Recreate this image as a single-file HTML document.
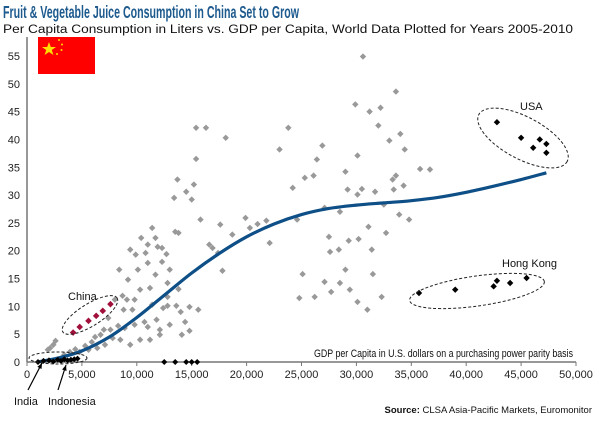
<!DOCTYPE html>
<html><head><meta charset="utf-8"><style>
body{margin:0;background:#fff;}
svg text{font-family:"Liberation Sans",sans-serif;}
</style></head><body>
<svg id="chart" width="600" height="420" viewBox="0 0 600 420">
<text x="3" y="18" font-size="17.5" font-weight="bold" fill="#1d5a8e" textLength="296" lengthAdjust="spacingAndGlyphs">Fruit &amp; Vegetable Juice Consumption in China Set to Grow</text>
<text x="3" y="33" font-size="11.5" fill="#111" textLength="570" lengthAdjust="spacingAndGlyphs">Per Capita Consumption in Liters vs. GDP per Capita, World Data Plotted for Years 2005-2010</text>
<g>
<rect x="38" y="37" width="57" height="37" fill="#f00"/>
<polygon points="49,42 50.8,47 56,47 51.8,50 53.4,55 49,52 44.6,55 46.2,50 42,47 47.2,47" fill="#ffde00"/>
<circle cx="59" cy="40" r="1" fill="#ffde00"/><circle cx="62" cy="44.5" r="1" fill="#ffde00"/>
<circle cx="61.5" cy="50" r="1" fill="#ffde00"/><circle cx="57" cy="54" r="1" fill="#ffde00"/>
</g>
<g id="axes"></g>
<g id="marks"></g>
<text x="314" y="357" font-size="11" fill="#111" textLength="259" lengthAdjust="spacingAndGlyphs">GDP per Capita in U.S. dollars on a purchasing power parity basis</text>
<text x="592" y="413" font-size="9.5" text-anchor="end" fill="#111"><tspan font-weight="bold">Source:</tspan> CLSA Asia-Pacific Markets, Euromonitor</text>
</svg>
<script>
const xTicks=[0,5000,10000,15000,20000,25000,30000,35000,40000,45000,50000];
const yTicks=[0,5,10,15,20,25,30,35,40,45,50,55];
const worldX=[12.7,13.4,13.7,14.5,13.5,15.4,16.3,15.4,16.9,18.1,17.4,17.8,15.2,13.0,12.8,12.8,13.8,15.0,16.6,15.8,17.6,18.7,20.3,19.9,21.0,21.8,22.1,23.0,23.8,24.6,24.2,25.3,26.1,26.4,26.9,27.6,28.4,29.0,30.1,29.2,30.5,30.6,29.9,31.2,32.2,33.0,32.0,33.6,34.4,36.7,35.8,33.6,33.4,31.4,28.5,27.1,27.5,29.3,31.1,30.2,30.1,31.7,33.3,32.5,32.7,33.9,34.8,34.3,29.0,28.5,29.4,30.1,31.0,32.3,31.5,25.1,26.2,27.1,27.7,24.8,34.0,6.7,7.6,8.3,8.9,9.8,10.7,12.1,13.0,7.4,8.0,8.7,9.2,10.1,10.3,11.2,11.7,12.3,11.9,10.8,9.8,11.4,12.4,13.6,14.0,14.4,14.8,15.6,14.1,11.2,8.5,9.4,10.3,11.8,11.0,12.1,14.8,13.8,9.6,8.8,7.8,7.1,6.4,5.6,4.8,3.9,2.4,2.1,2.6,1.9,8.4,9.4,10.4,11.4,9.9,11.0,11.7,9.1,11.0,12.3,12.8,3.4,4.4,5.3,5.9,7.0,6.2];
const worldY=[19.4,29.5,32.8,30.6,23.4,42.1,42.1,36.5,20.5,40.3,19.6,16.4,31.9,16.6,11.7,10.1,23.2,29.2,21.1,25.6,24.7,22.9,24.1,25.9,24.8,25.4,21.4,38.2,42.1,25.6,31.3,33.1,33.5,36.4,38.9,19.8,20.2,34.2,37.1,31.0,31.1,54.9,46.3,45.0,45.7,39.8,42.5,48.6,38.2,34.6,34.7,33.5,31.0,20.2,27.0,27.7,22.5,21.8,24.3,22.1,30.1,30.6,32.8,28.3,23.2,26.5,25.6,31.7,16.6,14.2,13.0,10.8,9.4,11.7,15.8,15.8,11.7,14.4,12.6,11.5,41.0,4.9,5.8,6.5,6.1,6.7,7.2,5.8,6.7,7.9,11.2,11.9,14.8,16.6,13.0,13.3,15.7,18.0,20.7,19.6,11.2,10.3,9.7,10.1,9.0,7.2,9.9,9.4,4.9,4.0,4.0,3.1,4.0,7.6,6.3,4.9,5.6,13.1,9.4,9.4,4.3,3.1,2.5,2.2,1.8,1.8,3.1,2.5,3.8,2.2,16.6,20.2,22.3,24.1,19.3,21.1,22.3,11.2,17.8,20.5,14.2,1.3,2.3,2.9,3.6,5.8,4.5];
const chinaX=[4.2,4.8,5.6,6.3,6.9,7.6];
const chinaY=[5.3,6.3,7.4,8.3,9.2,10.4];
const usaX=[42.8,45.0,46.7,47.3,46.1,47.3];
const usaY=[43.1,40.3,40.0,39.2,38.5,37.6];
const hkX=[35.7,39.0,42.5,42.8,44.0,45.5];
const hkY=[12.4,13.0,13.6,14.6,14.2,15.1];
const zeroX=[1.0,1.5,2.0,2.4,2.8,3.1,3.4,3.7,4.0,4.3,4.6,12.5,13.5,14.5,15.0,15.5];
const zeroY=[0,0.2,0.3,0.1,0.4,0.2,0.5,0.3,0.4,0.5,0.6,0,0,0,0,0];
const trendX=[1.0,3,5,7.5,10,12.5,15,17.5,20,22.5,25,27.5,30,32.5,35,37.5,40,42.5,45,47.3];
const trendY=[0,0.8,2.0,4.5,8,12,16,19.5,22.5,24.8,26.5,27.6,28.2,28.6,29.0,29.6,30.5,31.6,32.8,34.0];

const X0=27,X1=576,Y0=362,Y55=56;
const sx=v=>X0+(v/50000)*(X1-X0);
const sxk=v=>sx(v*1000);
const sy=v=>Y0-(v/55)*(Y0-Y55);
const NS="http://www.w3.org/2000/svg";
function mk(tag,attrs,parent){const e=document.createElementNS(NS,tag);for(const k in attrs)e.setAttribute(k,attrs[k]);parent.appendChild(e);return e;}
const axes=document.getElementById('axes'),marks=document.getElementById('marks');

const ya=mk('line',{x1:X0,y1:37,x2:X0,y2:Y0,stroke:'#777','stroke-width':1.5},axes);


const xa=mk('line',{x1:X0,y1:Y0,x2:X1,y2:Y0,stroke:'#777','stroke-width':1.5},axes);


yTicks.forEach(t=>{
  const l=mk('text',{x:20,y:sy(t)+4,'font-size':11,'text-anchor':'end',fill:'#222'},axes);l.textContent=t;
  
  
});
xTicks.forEach(t=>{
  mk('line',{x1:sx(t),y1:Y0,x2:sx(t),y2:Y0+4,stroke:'#777'},axes);
  const l=mk('text',{x:sx(t),y:Y0+16,'font-size':11,'text-anchor':'middle',fill:'#222'},axes);l.textContent=t.toLocaleString('en-US');
  
  
});
function diamond(x,y,fill,r){return mk('polygon',{points:`${x},${y-r} ${x+r},${y} ${x},${y+r} ${x-r},${y}`,fill:fill},marks);}
worldX.forEach((v,i)=>{const d=diamond(sxk(v),sy(worldY[i]),'#999',3.2);
  
  });
const pts=trendX.map((v,i)=>[sxk(v),sy(trendY[i])]);
let dstr=`M${pts[0][0]},${pts[0][1]}`;
for(let i=0;i<pts.length-1;i++){const p0=pts[Math.max(0,i-1)],p1=pts[i],p2=pts[i+1],p3=pts[Math.min(pts.length-1,i+2)];
  dstr+=` C${p1[0]+(p2[0]-p0[0])/6},${p1[1]+(p2[1]-p0[1])/6} ${p2[0]-(p3[0]-p1[0])/6},${p2[1]-(p3[1]-p1[1])/6} ${p2[0]},${p2[1]}`;}
const tl=mk('path',{d:dstr,fill:'none',stroke:'#0d4f86','stroke-width':3.2},marks);


zeroX.forEach((v,i)=>{const d=diamond(sxk(v),sy(zeroY[i]),'#000',3);
  
  });
chinaX.forEach((v,i)=>{const d=diamond(sxk(v),sy(chinaY[i]),'#a0103a',3.3);
  
  });
usaX.forEach((v,i)=>{const d=diamond(sxk(v),sy(usaY[i]),'#000',3.2);
  
  });
hkX.forEach((v,i)=>{const d=diamond(sxk(v),sy(hkY[i]),'#000',3.2);
  
  });
[['china-ellipse',90,315,32,11,-32],['indonesia-ellipse',58,358,29,6,0],['usa-ellipse',523,138,50,21,28],['hong-kong-ellipse',477,291,68,15,-8]].forEach(e=>{
  const el=mk('ellipse',{cx:e[1],cy:e[2],rx:e[3],ry:e[4],transform:`rotate(${e[5]} ${e[1]} ${e[2]})`,fill:'none',stroke:'#222','stroke-dasharray':'3,2','stroke-width':1},marks);
  
  
});
[['china-label','China',68,300],['usa-label','USA',520,110],['hong-kong-label','Hong Kong',502,267],['india-label','India',14,405],['indonesia-label','Indonesia',48,405]].forEach(t=>{
  const el=mk('text',{x:t[2],y:t[3],'font-size':11,fill:'#111'},marks);el.textContent=t[1];
  
  
});
[[28,390,42,363],[58,390,66,365]].forEach(a=>{
  const l=mk('line',{x1:a[0],y1:a[1],x2:a[2],y2:a[3],stroke:'#000','stroke-width':1.2},marks);
  
  
  const ang=Math.atan2(a[3]-a[1],a[2]-a[0]),L=6;
  mk('polygon',{points:`${a[2]},${a[3]} ${a[2]-L*Math.cos(ang-0.4)},${a[3]-L*Math.sin(ang-0.4)} ${a[2]-L*Math.cos(ang+0.4)},${a[3]-L*Math.sin(ang+0.4)}`,fill:'#000'},marks);
});
</script>
</body></html>
